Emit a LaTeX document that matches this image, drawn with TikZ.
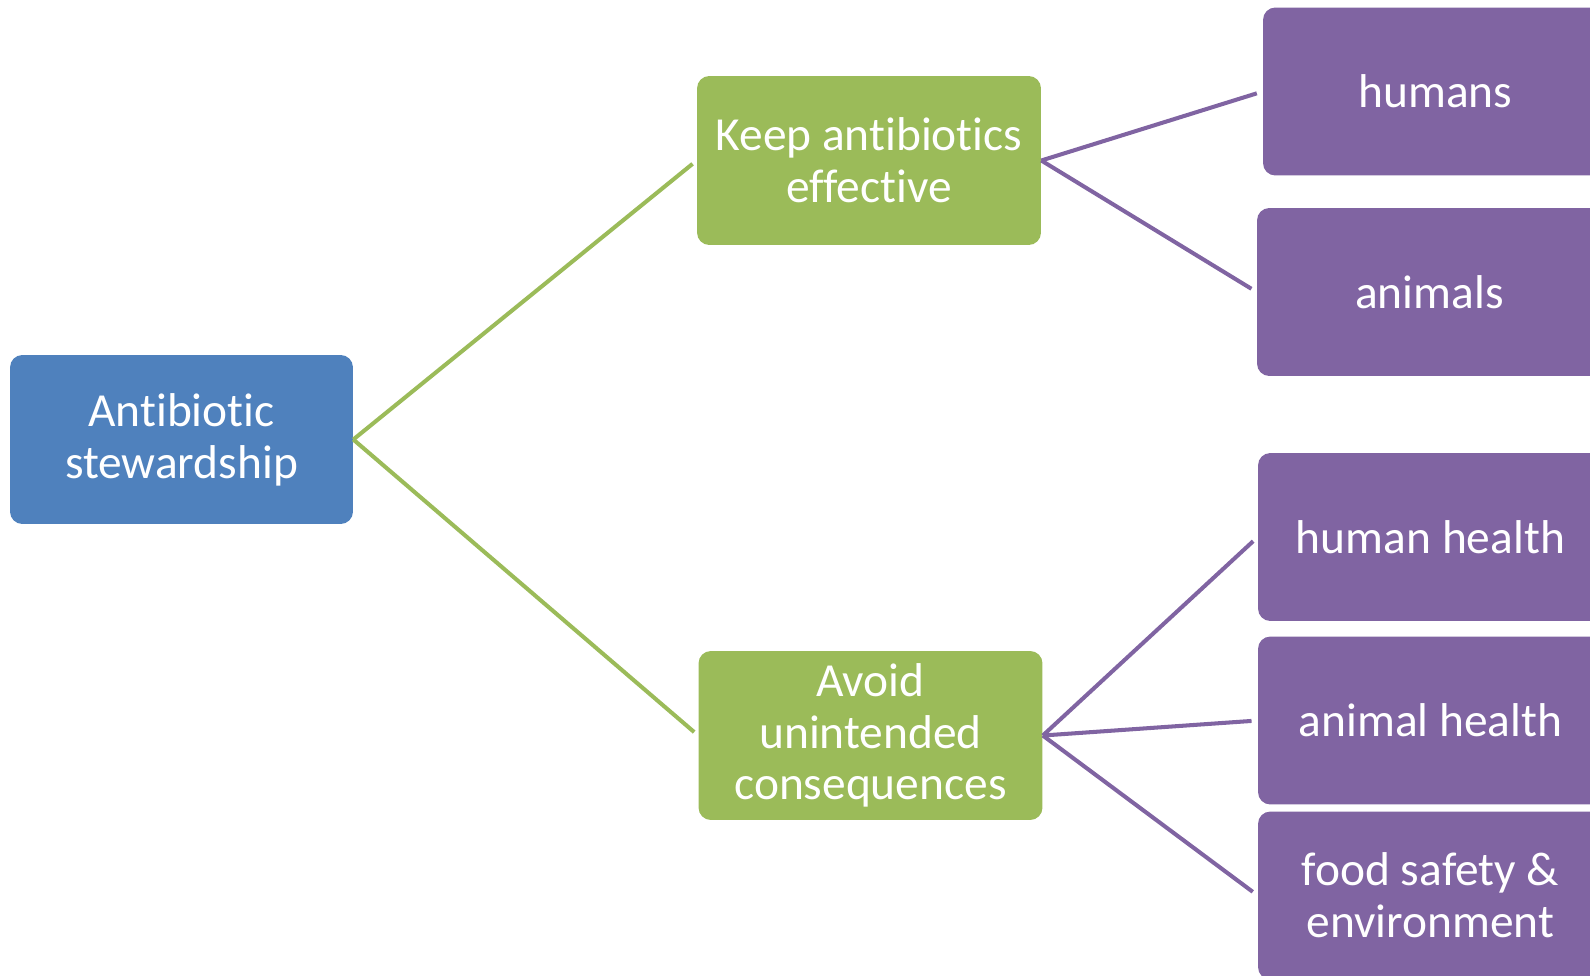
\documentclass[tikz,border=0pt]{standalone}
\usepackage{fontspec}
\setmainfont{Carlito}[Ligatures=NoCommon]
\usepackage{tikz}
\usetikzlibrary{positioning}
\definecolor{rootblue}{HTML}{4F81BD}
\definecolor{aimgreen}{HTML}{9BBB59}
\definecolor{leafpurple}{HTML}{8064A2}
\tikzset{box/.style={rectangle,rounded corners=7pt,text=white,align=center,
		font=\fontsize{27}{29.5}\selectfont,inner sep=0pt},
	 rootbox/.style={box,fill=rootblue,minimum width=6.86cm,minimum height=3.38cm},
	 aimbox/.style={box,fill=aimgreen,minimum width=6.88cm,minimum height=3.38cm},
	 leafbox/.style={box,fill=leafpurple,minimum width=6.9cm,minimum height=3.36cm},
	 aimline/.style={draw=aimgreen,line width=2.3pt,shorten >=3pt},
	 leafline/.style={draw=leafpurple,line width=2.3pt,shorten >=3.5pt}
	 }

\begin{document}
\begin{tikzpicture}[x=0.02cm,y=-0.02cm] % stewardship tree
        \useasboundingbox (0,0) rectangle (1590,975);
        \clip (0,0) rectangle (1590,975);
        \node[rootbox] (root) at (181.5,439.5) {Antibiotic\\stewardship};
        \node[aimbox] (keep) at (869,160.5) {Keep antibiotics\\effective};
        \node[aimbox] (avoid) at (870.5,735.5) {Avoid\\unintended\\consequences};
        \node[leafbox] (humans) at (1435.5,91.5) {humans};
        \node[leafbox] (animals) at (1429.5,292) {animals};
        \node[leafbox] (hhealth) at (1430.5,537) {human health};
        \node[leafbox] (ahealth) at (1430.5,720.5) {animal health};
        \node[leafbox] (food) at (1430.5,895.5) {food safety \&\\environment};
        \draw[aimline] (root.east) -- (keep.west);
        \draw[aimline] (root.east) -- (avoid.west);
        \draw[leafline] (keep.east) -- (humans.west);
        \draw[leafline] (keep.east) -- (animals.west);
        \draw[leafline] (avoid.east) -- (hhealth.west);
        \draw[leafline] (avoid.east) -- (ahealth.west);
        \draw[leafline] (avoid.east) -- (food.west);
     \end{tikzpicture}
\end{document}
